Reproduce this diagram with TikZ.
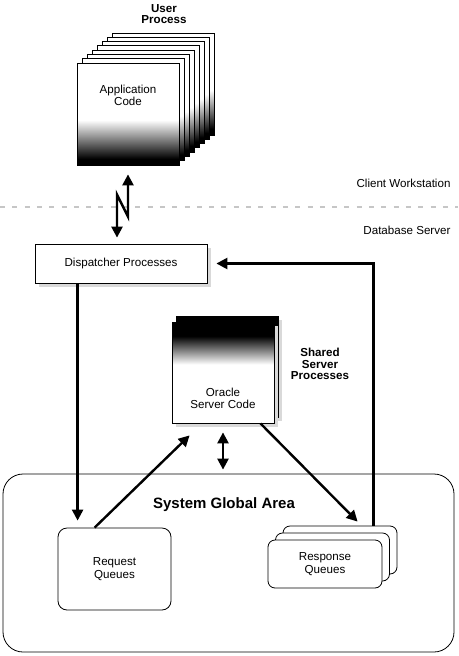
\documentclass[tikz,border=0pt]{standalone}
\usepackage{fontspec}
\setmainfont{Liberation Sans}
\usepackage{tikz}
\usetikzlibrary{arrows.meta}
\usetikzlibrary{calc}
\usetikzlibrary{shadows}
\pgfdeclareverticalshading{appshade}{100bp}{color(0bp)=(black); color(28bp)=(black); color(47bp)=(white); color(100bp)=(white)}
\pgfdeclareverticalshading{srvshade}{100bp}{color(0bp)=(white); color(54bp)=(white); color(68bp)=(black); color(100bp)=(black)}
\tikzstyle{block} = [draw, line width=0.8pt, fill=white, inner sep=0pt]
\tikzstyle{shadowed} = [drop shadow={shadow xshift=4pt, shadow yshift=-4pt, fill=black!15, opacity=1}]
\tikzstyle{sheet} = [draw, line width=0.8pt, shade, inner sep=0pt,
	minimum width=102pt,
	minimum height=102pt]
\tikzstyle{appsheet} = [sheet, shading=appshade]
\tikzstyle{srvsheet} = [sheet, shading=srvshade, shadowed, minimum height=101pt]
\tikzstyle{queue} = [block, rounded corners=7pt, align=center,
	minimum width=114pt,
	minimum height=48pt]
\tikzstyle{arrow} = [-{Triangle[length=11pt, width=11pt]}, line width=2.4pt]
\tikzstyle{dblarrow} = [{Triangle[length=11pt, width=11pt]}-{Triangle[length=11pt, width=11pt]}, line width=2.4pt]
\tikzstyle{title} = [font=\bfseries\fontsize{11.6}{11.5}\selectfont, align=center]
\tikzstyle{divider} = [gray!45, line width=1.5pt, dash pattern=on 5pt off 7.3pt]

\begin{document}
\begin{tikzpicture}[x=1pt, y=-1pt, font=\fontsize{11.6}{12.5}\selectfont]
	\useasboundingbox (0,0) rectangle (458,656);
	
	% client side
	\node (user) [title] at (164,14) {User\\Process};
	\foreach \i in {7,...,1}
		\node (app\i) [appsheet] at ($(128,114)+\i*(5,-4.3)$) {};
	\node (app) [appsheet] at (128,114) {};
	\node (apptext) [align=center] at ([yshift=-33pt]app.north) {Application\\Code};
	
	\coordinate (divl) at (0,207);
	\coordinate (divr) at (458,207);
	\draw [divider] (divl) -- (divr);
	\node (client) [anchor=east] at (454,183) {Client Workstation};
	\node (dbs) [anchor=east] at (454,230) {Database Server};
	
	% server side
	\node (sga) [draw, line width=0.8pt, rounded corners=20pt, minimum width=451pt, minimum height=178pt] at (228.5,563) {};
	\node (sgatext) [font=\bfseries\fontsize{15}{18}\selectfont] at (224,505) {System Global Area};
	
	\node (disp) [block, shadowed, minimum width=172pt, minimum height=39pt] at (121,263.5) {Dispatcher Processes};
	
	\node (ora1) [srvsheet] at ($(223,372.5)+(4,-6)$) {};
	\node (ora) [srvsheet] at (223,372.5) {};
	\node (oratext) [align=center] at ([yshift=25pt]ora.south) {Oracle\\Server Code};
	\node (shared) [title] at (320,364) {Shared\\Server\\Processes};
	
	\node (req) [queue, rounded corners=9pt, minimum width=113pt, minimum height=82pt] at (114.5,569) {Request\\Queues};
	\foreach \i in {2,1}
		\node (resp\i) [queue] at ($(325,564)+\i*(7.5,-7)$) {};
	\node (resp) [queue] at (325,564) {Response\\Queues};
	
	% connectors
	\draw [dblarrow] ([shift={(-4pt,6pt)}]disp.north) -- ++(0,-43) -- ++(11,22) -- ([yshift=-9pt]app.south);
	
	\coordinate (reqin) at ([shift={(20pt,7pt)}]req.north west);
	\draw [arrow] (reqin |- disp.south) -- (reqin);
	\draw [arrow] ([xshift=37pt]req.north west) -- ([shift={(18pt,-12pt)}]ora.south west);
	\draw [arrow] ([xshift=-14pt]ora.south east) -- ([shift={(75pt,4pt)}]resp2.north west);
	\draw [dblarrow] ([yshift=-9pt]ora.south) -- ($(ora.south |- sga.north)+(0,-4)$);
	\draw [arrow] ([xshift=-24pt]resp2.north east) |- ([xshift=9pt]disp.east);
\end{tikzpicture}
\end{document}
